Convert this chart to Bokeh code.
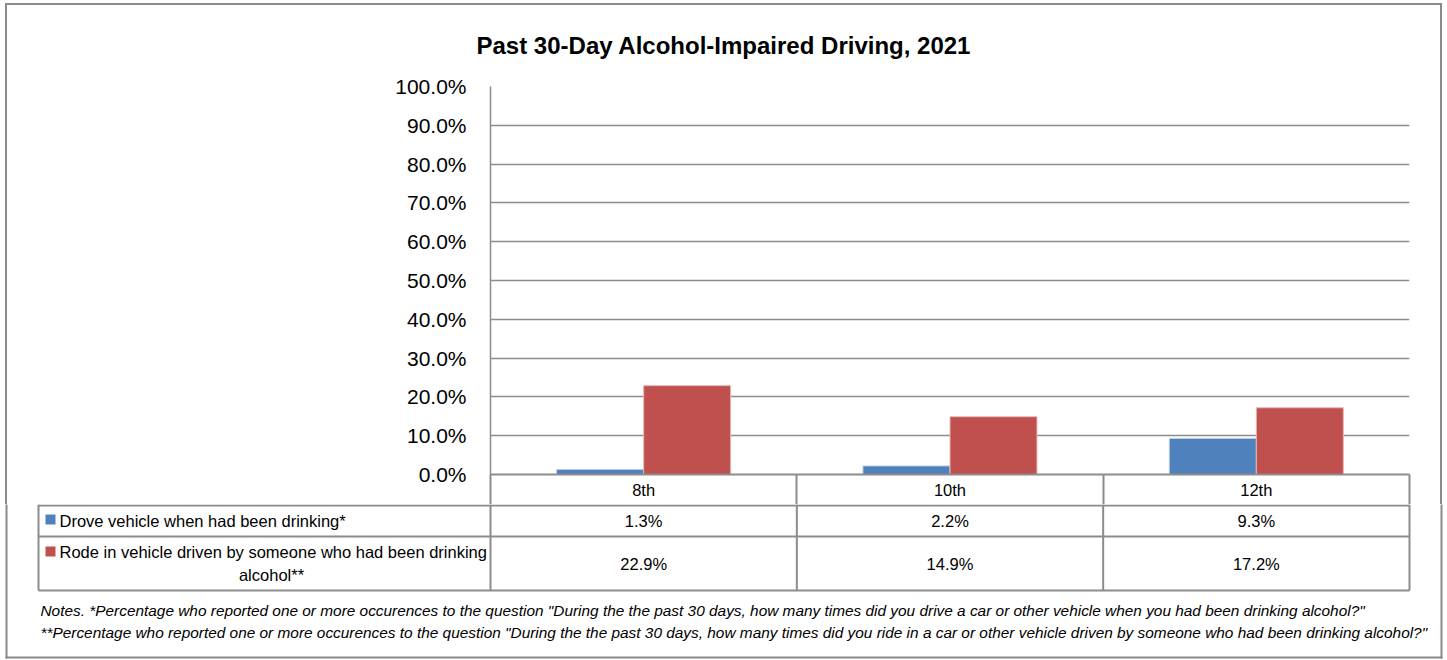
from bokeh.plotting import figure
from bokeh.models import Range1d, FixedTicker, PrintfTickFormatter, Title
from bokeh.transform import dodge
from bokeh.embed import file_html
from bokeh.resources import INLINE
from bokeh.core.properties import value

# ---------------- data ----------------
grades = ["8th", "10th", "12th"]
drove = [1.3, 2.2, 9.3]
rode = [22.9, 14.9, 17.2]
series_names = ["Drove vehicle when had been drinking*",
                "Rode in vehicle driven by someone who had been drinking",
                "alcohol**"]
y_ticks = [0, 10, 20, 30, 40, 50, 60, 70, 80, 90, 100]
title_text = "Past 30-Day Alcohol-Impaired Driving, 2021"
notes = [
    'Notes. *Percentage who reported one or more occurences to the question "During the the past 30 days, how many times did you drive a car or other vehicle when you had been drinking alcohol?"',
    '**Percentage who reported one or more occurences to the question "During the the past 30 days, how many times did you ride in a car or other vehicle driven by someone who had been drinking alcohol?"',
]

# ---------------- style ----------------
FONT = "Liberation Sans"
GRID = "#8c8c8c"
BORDER = "#8a8a8a"
BLUE = "#4F81BD"
RED = "#C0504D"
BLUE_EDGE = "#B9CDE5"
RED_EDGE = "#E6B9B8"

W = 1447
FL, FR, FT, FB = 490, 1409, 86, 474   # plot frame in page pixels
HA = 504
HB = 660 - HA
BX0, BX1, BY0, BY1 = 5, 1441, 3, 657  # outer border box

n = len(grades)
pos = [i + 0.5 for i in range(n)]

# ---------------- chart ----------------
grad = "linear-gradient(%s,%s)" % (BORDER, BORDER)
pA = figure(frame_width=FR - FL, frame_height=FB - FT,
            x_range=Range1d(0, n), y_range=Range1d(0, 100),
            output_backend="svg", toolbar_location=None,
            min_border_left=FL, min_border_right=W - FR, min_border_top=FT,
            min_border_bottom=HA - FB,
            styles={
                "background-image": ", ".join([grad] * 3),
                "background-size": "%dpx 2px, 2px %dpx, 2px %dpx" % (BX1 - BX0 + 1, HA - BY0, HA - BY0),
                "background-position": "%dpx %dpx, %dpx %dpx, %dpx %dpx" % (BX0, BY0, BX0, BY0, BX1 - 1, BY0),
                "background-repeat": "no-repeat",
            })
pA.outline_line_color = None
pA.border_fill_color = None
pA.background_fill_color = None
pA.xgrid.grid_line_color = None
pA.ygrid.grid_line_color = GRID
pA.ygrid.grid_line_width = 1.5
pA.ygrid.ticker = FixedTicker(ticks=y_ticks)

pA.title = Title(text=title_text, align="left", offset=-14, standoff=56, text_font=FONT,
                 text_font_size="24px", text_font_style="bold", text_color="#000000")

yax = pA.yaxis[0]
yax.ticker = FixedTicker(ticks=y_ticks)
yax.formatter = PrintfTickFormatter(format="%.1f%%")
yax.major_tick_out = 0
yax.major_tick_in = 0
yax.minor_tick_out = 0
yax.minor_tick_in = 0
yax.axis_line_color = GRID
yax.axis_line_width = 1.5
yax.major_label_standoff = 24
yax.major_label_text_font = FONT
yax.major_label_text_font_size = "21px"
yax.major_label_text_color = "#000000"

xax = pA.xaxis[0]
xax.ticker = FixedTicker(ticks=pos, minor_ticks=list(range(n + 1)))
xax.major_label_overrides = {p_: g for p_, g in zip(pos, grades)}
xax.major_tick_out = 0
xax.major_tick_in = 0
xax.minor_tick_out = HA - FB
xax.minor_tick_in = 0
xax.minor_tick_line_color = GRID
xax.minor_tick_line_width = 2
xax.axis_line_color = GRID
xax.axis_line_width = 2
xax.major_label_standoff = -(HA - FB) + 6
xax.major_label_text_font = FONT
xax.major_label_text_font_size = "16.5px"
xax.major_label_text_color = "#000000"

src = dict(pos=pos, drove=drove, rode=rode)
bw = 0.284
pA.vbar(x=dodge("pos", -bw / 2), top="drove", width=bw, source=src,
        fill_color=BLUE, line_color=BLUE_EDGE, line_width=1)
pA.vbar(x=dodge("pos", bw / 2), top="rode", width=bw, source=src,
        fill_color=RED, line_color=RED_EDGE, line_width=1)

# ---------------- table + notes ----------------
pB = figure(frame_width=W, frame_height=HB, x_range=Range1d(0, W), y_range=Range1d(660, HA),
            output_backend="svg", toolbar_location=None,
            min_border_left=0, min_border_right=0, min_border_top=0, min_border_bottom=0,
            x_axis_location=None, y_axis_location=None)
pB.outline_line_color = None
pB.border_fill_color = None
pB.background_fill_color = None
pB.grid.grid_line_color = None

# outer border (lower part)
pB.segment(x0=[BX0 + 1, BX1, BX0], x1=[BX0 + 1, BX1, BX1 + 1], y0=[HA - 1, HA - 1, BY1],
           y1=[BY1 + 1, BY1 + 1, BY1], line_color=BORDER, line_width=2)

tab_l = 38
edges = [FL + i * (FR - FL) / n for i in range(n + 1)]
centers = [(edges[i] + edges[i + 1]) / 2 for i in range(n)]
row_top, row_mid, row_bot = HA + 1, 536, 590

pB.segment(x0=[tab_l] * 3, x1=[FR] * 3, y0=[row_top, row_mid, row_bot],
           y1=[row_top, row_mid, row_bot], line_color=GRID, line_width=2)
vx = [tab_l] + edges
pB.segment(x0=vx, x1=vx, y0=[HA] * len(vx), y1=[row_bot] * len(vx), line_color=GRID, line_width=2)

r1, r2 = 520, 563
pB.rect(x=[50, 50], y=[519, 551], width=10, height=10, fill_color=[BLUE, RED], line_color=None)
pB.text(x=[59, 59], y=[520, 551], text=series_names[:2], text_font=value(FONT),
        text_font_size="16.5px", text_align="left", text_baseline="middle", text_color="#000000")
pB.text(x=[271], y=[574], text=series_names[2:], text_font=value(FONT),
        text_font_size="16.5px", text_align="center", text_baseline="middle", text_color="#000000")
pB.text(x=centers, y=[r1] * n, text=[f"{v:.1f}%" for v in drove], text_font=value(FONT),
        text_font_size="16.5px", text_align="center", text_baseline="middle", text_color="#000000")
pB.text(x=centers, y=[r2] * n, text=[f"{v:.1f}%" for v in rode], text_font=value(FONT),
        text_font_size="16.5px", text_align="center", text_baseline="middle", text_color="#000000")

pB.text(x=[40, 40], y=[610, 632], text=notes, text_font=value(FONT), text_font_size="15.4px",
        text_font_style="italic", text_align="left", text_baseline="middle", text_color="#000000")

open("out.html", "w").write(file_html([pA, pB], INLINE))
